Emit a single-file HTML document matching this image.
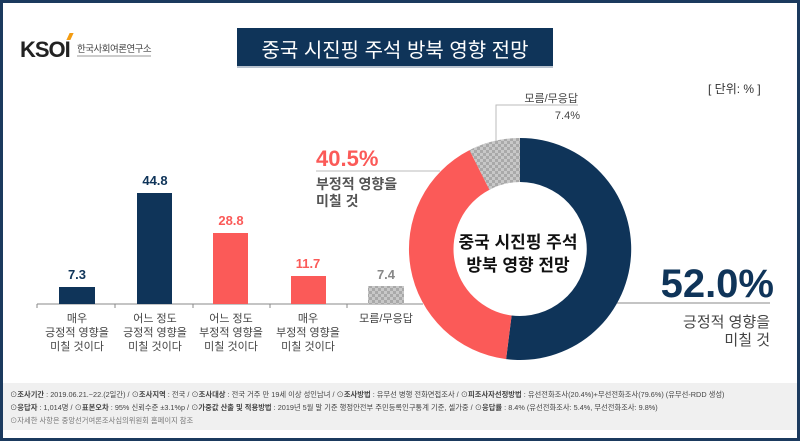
<!DOCTYPE html>
<html><head><meta charset="utf-8"><style>
body{margin:0;width:800px;height:441px;overflow:hidden;background:#fff;font-family:"Liberation Sans","Noto Sans CJK KR",sans-serif;}
.t{position:absolute;white-space:nowrap;}
</style></head><body>
<div style="position:absolute;left:0;top:0;width:794px;height:435px;border:3px solid #1b3a5e;"></div>
<div class="t" style="left:20px;top:37px;font-size:22px;font-weight:bold;color:#222;letter-spacing:-1px;">KSOI</div>
<div style="position:absolute;left:68px;top:33px;width:4px;height:7px;background:#f39c12;transform:skewX(-25deg);"></div>
<div class="t" style="left:77px;top:41px;font-size:9.5px;color:#444;border-bottom:2px solid #ccc;letter-spacing:-0.5px;">한국사회여론연구소</div>
<div style="position:absolute;left:237px;top:28px;width:316px;height:38px;background:#0f3459;border-bottom:2px solid #b9c3cf;"></div>
<div class="t" style="left:237px;top:34px;width:316px;text-align:center;font-size:20px;color:#fff;">중국 시진핑 주석 방북 영향 전망</div>
<div class="t" style="left:708px;top:80px;font-size:12px;color:#333;">[ 단위: % ]</div>
<svg style="position:absolute;left:0;top:0" width="800" height="441">
<defs><pattern id="p" width="6" height="6" patternUnits="userSpaceOnUse"><rect width="6" height="6" fill="#c8c8c8"/><rect width="3" height="3" fill="#a9a9a9"/><rect x="3" y="3" width="3" height="3" fill="#a9a9a9"/></pattern></defs>
<line x1="37" y1="304" x2="423" y2="304" stroke="#888" stroke-width="1"/>
<g stroke="#888"><line x1="37" y1="304" x2="37" y2="308"/><line x1="115" y1="304" x2="115" y2="308"/><line x1="193" y1="304" x2="193" y2="308"/><line x1="270" y1="304" x2="270" y2="308"/><line x1="347" y1="304" x2="347" y2="308"/></g>
<rect x="59" y="287" width="36" height="17" fill="#0f3459"/>
<rect x="137" y="193" width="35" height="111" fill="#0f3459"/>
<rect x="213" y="233" width="35" height="71" fill="#fb5a58"/>
<rect x="291" y="276" width="35" height="28" fill="#fb5a58"/>
<rect x="368" y="286" width="36" height="18" fill="url(#p)"/>
<g font-weight="bold" font-size="13" text-anchor="middle">
<text x="77" y="279" fill="#0f3459">7.3</text><text x="155" y="185" fill="#0f3459">44.8</text>
<text x="231" y="225" fill="#fb5a58">28.8</text><text x="308" y="268" fill="#fb5a58">11.7</text>
<text x="386" y="279" fill="#888">7.4</text></g>
<g font-size="11" fill="#444" text-anchor="middle">
<text x="77" y="322">매우</text><text x="77" y="336">긍정적 영향을</text><text x="77" y="350">미칠 것이다</text>
<text x="155" y="322">어느 정도</text><text x="155" y="336">긍정적 영향을</text><text x="155" y="350">미칠 것이다</text>
<text x="231" y="322">어느 정도</text><text x="231" y="336">부정적 영향을</text><text x="231" y="350">미칠 것이다</text>
<text x="308" y="322">매우</text><text x="308" y="336">부정적 영향을</text><text x="308" y="350">미칠 것이다</text>
<text x="386" y="322">모름/무응답</text></g>
<polyline points="496,142 496,105 578,105" fill="none" stroke="#bbb"/>
<line x1="316" y1="171" x2="440" y2="171" stroke="#bbb"/>
<line x1="617" y1="303" x2="770" y2="303" stroke="#888"/>
<path d="M520 138 A111 111 0 1 1 506.1 359.1 L511.6 315.5 A67 67 0 1 0 520 182 Z" fill="#0f3459"/>
<path d="M506.1 359.1 A111 111 0 0 1 469.5 150.1 L489.5 189.7 A67 67 0 0 0 511.6 315.5 Z" fill="#fb5a58"/>
<path d="M469.5 150.1 A111 111 0 0 1 520 138 L520 182 A67 67 0 0 0 489.5 189.7 Z" fill="url(#p)"/>
<g font-weight="bold" font-size="17" text-anchor="middle" fill="#111"><text x="518" y="248">중국 시진핑 주석</text><text x="518" y="271">방북 영향 전망</text></g>
<text x="578" y="102" font-size="11" fill="#444" text-anchor="end">모름/무응답</text>
<text x="580" y="119" font-size="11" fill="#444" text-anchor="end">7.4%</text>
<text x="316" y="166" font-size="22" font-weight="bold" fill="#fb5a58">40.5%</text>
<text x="316" y="189" font-size="14" font-weight="bold" fill="#555">부정적 영향을</text>
<text x="316" y="206" font-size="14" font-weight="bold" fill="#555">미칠 것</text>
<text x="774" y="297" font-size="40" font-weight="bold" fill="#0f3459" text-anchor="end">52.0%</text>
<text x="770" y="327" font-size="15" fill="#444" text-anchor="end">긍정적 영향을</text>
<text x="770" y="345" font-size="15" fill="#444" text-anchor="end">미칠 것</text>
</svg>
<div style="position:absolute;left:3px;top:383px;width:794px;height:47px;background:#f0f0f0;"></div>
<div class="t" style="left:10px;top:388px;font-size:7.3px;line-height:13px;color:#444;">
<div>⊙<b>조사기간</b> : 2019.06.21.~22.(2일간) / ⊙<b>조사지역</b> : 전국 / ⊙<b>조사대상</b> : 전국 거주 만 19세 이상 성인남녀 / ⊙<b>조사방법</b> : 유무선 병행 전화면접조사 / ⊙<b>피조사자선정방법</b> : 유선전화조사(20.4%)+무선전화조사(79.6%) (유무선-RDD 생성)</div>
<div>⊙<b>응답자</b> : 1,014명 / ⊙<b>표본오차</b> : 95% 신뢰수준 ±3.1%p / ⊙<b>가중값 산출 및 적용방법</b> : 2019년 5월 말 기준 행정안전부 주민등록인구통계 기준, 셀가중 / ⊙<b>응답률</b> : 8.4% (유선전화조사: 5.4%, 무선전화조사: 9.8%)</div>
<div style="color:#777">⊙자세한 사항은 중앙선거여론조사심의위원회 홈페이지 참조</div></div>
</body></html>
